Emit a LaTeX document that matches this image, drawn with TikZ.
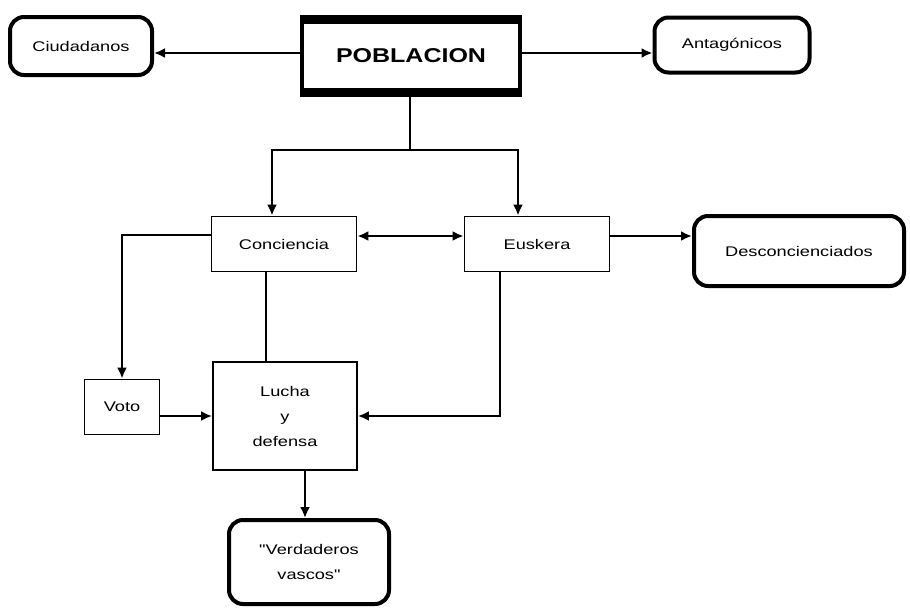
\documentclass[tikz,border=0pt]{standalone}
\usepackage{fontspec}
\setmainfont{Liberation Sans}
\newfontfamily\labfont[FakeStretch=1.3]{Liberation Sans}
\newfontfamily\pobfont[FakeStretch=1.25]{Liberation Sans}
\usetikzlibrary{arrows.meta}
\begin{document}
\begin{tikzpicture}[x=1pt,y=-1pt,
  lab/.style={font=\labfont\fontsize{14}{25}\selectfont, align=center, inner sep=0pt},
  sqbox/.style={lab, draw, line width=1.8pt},
  rndbox/.style={lab, draw, line width=4pt, rounded corners=14pt},
  conn/.style={line width=2.2pt, -{Latex[length=11pt,width=10pt]}},
  plain/.style={line width=2.2pt},
  dbl/.style={line width=2.2pt, {Latex[length=11pt,width=10pt]}-{Latex[length=11pt,width=10pt]}}]
\fill[white] (0,0) rectangle (910,614);
\path[use as bounding box] (0,0) rectangle (910,614);

\node[rndbox, minimum width=142pt, minimum height=58pt] (ciu) at (81,46) {Ciudadanos};
\node[font=\pobfont\bfseries\fontsize{20}{24}\selectfont, inner sep=0pt, minimum width=222pt, minimum height=82pt] (pob) at (411,56) {POBLACION};
\draw[line width=4.5pt] ([shift={(2.25,2.25)}]pob.north west) rectangle ([shift={(-2.25,-2.25)}]pob.south east);
\fill (pob.north west) rectangle ([yshift=-9pt]pob.north east);
\fill ([yshift=9pt]pob.south west) rectangle (pob.south east);
\node[rndbox, minimum width=155pt, minimum height=55pt] (ant) at (732,45) {Antagónicos};

\node[sqbox, minimum width=145pt, minimum height=55pt] (con) at (284,244) {Conciencia};
\node[sqbox, minimum width=145pt, minimum height=55pt] (eus) at (537,244) {Euskera};
\node[rndbox, minimum width=210pt, minimum height=70pt] (des) at (799,251) {Desconcienciados};
\node[sqbox, minimum width=75pt, minimum height=55pt] (vot) at (122,407) {Voto};
\node[sqbox, minimum width=144pt, minimum height=108pt] (luc) at (285,416) {Lucha\\y\\defensa};
\node[rndbox, minimum width=160pt, minimum height=84pt] (ver) at (309,562) {"Verdaderos\\vascos"};

\coordinate (j) at (410,150);
\draw[conn] (pob.west |- 0,53) -- (ciu.east |- 0,53);
\draw[conn] (pob.east |- 0,53) -- (ant.west |- 0,53);
\draw[plain] (pob.south -| j) -- (j);
\draw[conn] (j) -| ([xshift=-12pt]con.north);
\draw[conn] (j) -| ([xshift=-19pt]eus.north);
\draw[dbl] ([yshift=8pt]con.east) -- ([yshift=8pt]eus.west);
\draw[conn] ([yshift=8pt]eus.east) -- (des.west |- 0,236);
\draw[conn] ([yshift=9pt]con.west) -| (vot.north);
\draw[conn] (vot.east |- luc.west) -- (luc.west);
\draw[plain] ([xshift=-18pt]con.south) -- ([xshift=-18pt]con.south |- luc.north);
\draw[conn] ([xshift=-37pt]eus.south) |- (luc.east);
\draw[conn] ([xshift=20pt]luc.south) -- ([xshift=20pt]luc.south |- ver.north);
\end{tikzpicture}
\end{document}
